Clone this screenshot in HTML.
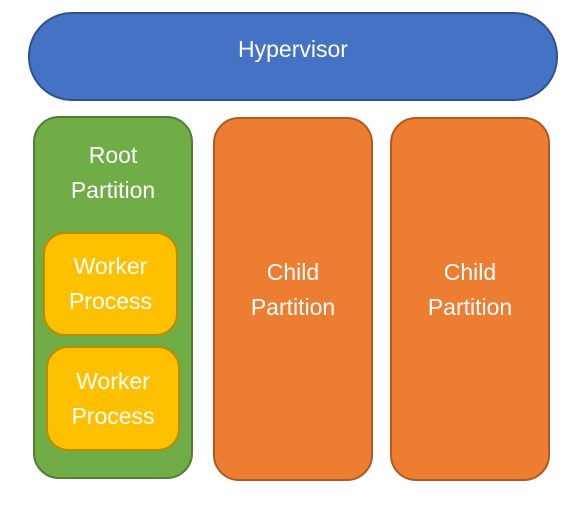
<!DOCTYPE html>
<html><head><style>
body{margin:0;width:584px;height:506px;background:#fff;position:relative;overflow:hidden;font-family:"Liberation Sans",sans-serif;color:#fff}
.b{position:absolute;box-sizing:border-box;border:2px solid;display:flex;align-items:center;justify-content:center;text-align:center;font-size:23px;line-height:35px}
</style></head><body>
<div class="b" style="left:28px;top:12px;width:530px;height:89px;border-radius:44px;background:#4472C4;border-color:#2F528F;padding-bottom:14px">Hypervisor</div>
<div class="b" style="left:33px;top:116px;width:160px;height:363px;border-radius:26px;background:#70AD47;border-color:#507E32;align-items:flex-start;padding-top:20px">Root<br>Partition</div>
<div class="b" style="left:43px;top:232px;width:135px;height:104px;border-radius:22px;background:#FFC000;border-color:#BC8C00">Worker<br>Process</div>
<div class="b" style="left:46px;top:346px;width:134px;height:105px;border-radius:22px;background:#FFC000;border-color:#BC8C00">Worker<br>Process</div>
<div class="b" style="left:213px;top:117px;width:160px;height:364px;border-radius:26px;background:#ED7D31;border-color:#AE5A21;padding-bottom:18px">Child<br>Partition</div>
<div class="b" style="left:390px;top:117px;width:160px;height:364px;border-radius:26px;background:#ED7D31;border-color:#AE5A21;padding-bottom:18px">Child<br>Partition</div>
</body></html>
